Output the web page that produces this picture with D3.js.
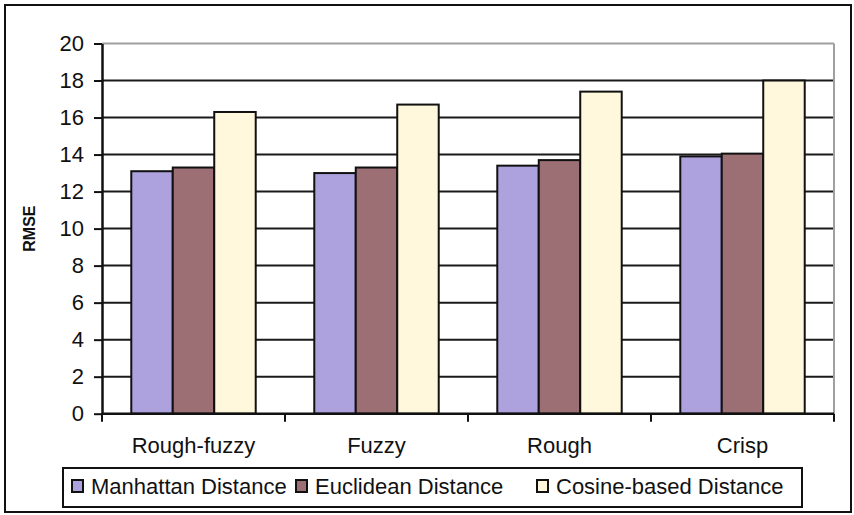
<!DOCTYPE html>
<html>
<head>
<meta charset="utf-8">
<script src="https://cdn.jsdelivr.net/npm/d3@7"></script>
<style>
  html, body { margin: 0; padding: 0; background: #fff; }
  svg { display: block; font-family: "Liberation Sans", Arial, Helvetica, sans-serif; }
</style>
</head>
<body>
<svg id="chart" width="854" height="515"></svg>
<script>
// Clustering methods on the x axis
const categories = ["Rough-fuzzy", "Fuzzy", "Rough", "Crisp"];
// Distance measures (one bar per measure within each method)
const seriesNames = ["Manhattan Distance", "Euclidean Distance", "Cosine-based Distance"];
const manhattan = [13.1, 13.0, 13.4, 13.9];
const euclidean = [13.3, 13.3, 13.7, 14.05];
const cosine = [16.3, 16.7, 17.4, 18.0];
const yTicks = [0, 2, 4, 6, 8, 10, 12, 14, 16, 18, 20];
const colors = ["#ADA1DE", "#9B6F74", "#FFF8DC"];

const series = [manhattan, euclidean, cosine];

const svg = d3.select("#chart");
const plot = { left: 102, right: 834, top: 43.5, bottom: 413.7 };

// outer frame
svg.append("rect")
  .attr("x", 5).attr("y", 5).attr("width", 846).attr("height", 507)
  .attr("fill", "#fff").attr("stroke", "#111").attr("stroke-width", 2);

const x0 = d3.scaleBand().domain(categories)
  .range([plot.left, plot.right]).paddingInner(0.32).paddingOuter(0.16);
const x1 = d3.scaleBand().domain(d3.range(seriesNames.length))
  .range([0, x0.bandwidth()]);
const y = d3.scaleLinear().domain([0, 20]).range([plot.bottom, plot.top]);

// horizontal gridlines
svg.append("g").selectAll("line").data(yTicks.filter(t => t > 0)).join("line")
  .attr("x1", plot.left).attr("x2", plot.right)
  .attr("y1", d => y(d)).attr("y2", d => y(d))
  .attr("stroke", d => d === 20 ? "#a0a0a0" : "#1a1a1a")
  .attr("stroke-width", 2);

// right edge of the plot area
svg.append("line")
  .attr("x1", plot.right).attr("x2", plot.right)
  .attr("y1", plot.top).attr("y2", plot.bottom)
  .attr("stroke", "#a0a0a0").attr("stroke-width", 2);

// bars
const groups = svg.append("g").selectAll("g").data(categories).join("g")
  .attr("transform", d => `translate(${x0(d)},0)`);
groups.selectAll("rect")
  .data((c, i) => series.map((s, k) => ({ k, v: s[i] })))
  .join("rect")
  .attr("x", d => x1(d.k))
  .attr("width", x1.bandwidth())
  .attr("y", d => y(d.v))
  .attr("height", d => y(0) - y(d.v))
  .attr("fill", d => colors[d.k])
  .attr("stroke", "#111").attr("stroke-width", 2);

// y axis
const yAxis = svg.append("g").attr("transform", `translate(${plot.left},0)`)
  .call(d3.axisLeft(y).tickValues(yTicks).tickSize(8).tickSizeOuter(0).tickPadding(10));
yAxis.select(".domain").attr("stroke", "#111").attr("stroke-width", 2.5);
yAxis.selectAll(".tick line").attr("stroke", "#111").attr("stroke-width", 2);
yAxis.selectAll(".tick text").attr("font-size", 22).attr("fill", "#111")
  .attr("font-family", "'Liberation Sans', Arial, sans-serif");

// x axis baseline with tick marks between categories
const xAxis = svg.append("g");
xAxis.append("line")
  .attr("x1", plot.left).attr("x2", plot.right)
  .attr("y1", y(0)).attr("y2", y(0))
  .attr("stroke", "#111").attr("stroke-width", 2.5);
const step = x0.step();
const bounds = d3.range(categories.length + 1).map(i => plot.left + i * step);
xAxis.selectAll("line.sep").data(bounds).join("line").attr("class", "sep")
  .attr("x1", d => d).attr("x2", d => d)
  .attr("y1", y(0)).attr("y2", y(0) + 8)
  .attr("stroke", "#111").attr("stroke-width", 2);
xAxis.selectAll("text").data(categories).join("text")
  .attr("x", d => x0(d) + x0.bandwidth() / 2)
  .attr("y", 453)
  .attr("text-anchor", "middle")
  .attr("font-size", 22).attr("fill", "#111")
  .text(d => d);

// y axis title
svg.append("text")
  .attr("transform", `translate(35,${(plot.top + plot.bottom) / 2}) rotate(-90)`)
  .attr("text-anchor", "middle")
  .attr("font-size", 16).attr("font-weight", "bold").attr("fill", "#111")
  .text("RMSE");

// legend
const legend = svg.append("g");
legend.append("rect")
  .attr("x", 63).attr("y", 468).attr("width", 739).attr("height", 39)
  .attr("fill", "#fff").attr("stroke", "#111").attr("stroke-width", 2);
const legendX = [72, 296, 537];
seriesNames.forEach((name, i) => {
  legend.append("rect")
    .attr("x", legendX[i]).attr("y", 480).attr("width", 11).attr("height", 12)
    .attr("fill", colors[i]).attr("stroke", "#111").attr("stroke-width", 2);
  legend.append("text")
    .attr("x", legendX[i] + 19).attr("y", 494)
    .attr("font-size", 22).attr("fill", "#111")
    .text(name);
});
</script>
</body>
</html>
